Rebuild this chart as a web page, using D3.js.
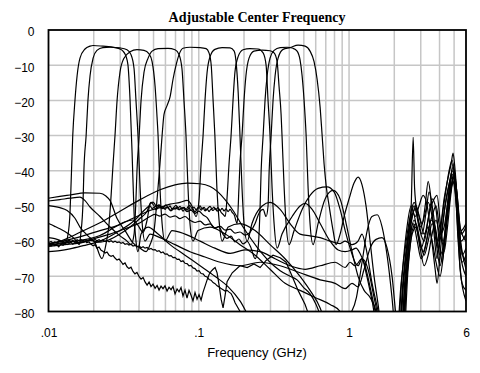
<!DOCTYPE html>
<html>
<head>
<meta charset="utf-8">
<script src="https://cdn.jsdelivr.net/npm/d3@7"></script>
<style>
  body { margin: 0; background: #fff; }
  text { fill: #000; }
</style>
</head>
<body>
<div id="chart"></div>
<script>
// ticks
var xTicks = [0.01, 0.1, 1, 6];
var xTickLabels = [".01", ".1", "1", "6"];
var xGrid = [0.02, 0.03, 0.04, 0.05, 0.06, 0.07, 0.08, 0.09, 0.1,
             0.2, 0.3, 0.4, 0.5, 0.6, 0.7, 0.8, 0.9, 1, 2, 3, 4, 5];
var yTicks = [0, -10, -20, -30, -40, -50, -60, -70, -80];

// filter responses, [frequency GHz, dB]
var f1 = [[0.0100,-59],[0.0110,-59.3],[0.0119,-59.8],[0.0129,-60.5],[0.0135,-58],[0.0139,-52],[0.0141,-45],[0.0145,-30],[0.0150,-20],[0.0155,-13],[0.0162,-8],[0.0175,-5.4],[0.0189,-4.6],[0.0198,-4.4],[0.0230,-4.6],[0.0277,-5.0],[0.0299,-5.4],[0.0313,-6],[0.0328,-7.5],[0.0338,-10],[0.0349,-20],[0.0360,-35],[0.0371,-52],[0.0382,-60],[0.0394,-63],[0.0413,-58],[0.0460,-56],[0.0536,-58],[0.0644,-61],[0.0810,-64],[0.102,-67],[0.128,-70],[0.157,-73],[0.188,-77],[0.219,-82],[0.40,-92],[0.87,-90],[0.94,-84],[1.12,-76],[1.22,-66],[1.32,-57],[1.42,-53],[1.54,-52.5],[1.66,-56],[1.79,-64],[1.93,-76],[2.05,-88],
  [2.12,-90],[2.29,-72],[2.47,-58],[2.59,-50],[2.67,-30.5],[2.73,-45],[2.84,-52],[3.02,-56],[3.21,-50],[3.36,-43],[3.51,-48],[3.68,-58],[3.85,-65],[4.03,-58],[4.29,-48],[4.56,-42],[4.78,-38],[4.92,-35],[5.08,-40],[5.32,-52],[5.57,-60],[6.0,-58]];

var f2 = [[0.0100,-55],[0.0110,-55.8],[0.0119,-56.5],[0.0133,-57.7],[0.0150,-59.5],[0.0160,-61],[0.0164,-58],[0.0170,-48],[0.0172,-40],[0.0178,-30],[0.0183,-20],[0.0189,-13],[0.0198,-8],[0.0210,-5.8],[0.0230,-5.0],[0.0257,-4.9],[0.0299,-5.1],[0.0333,-5.6],[0.0354,-7],[0.0371,-11],[0.0382,-20],[0.0394,-30],[0.0407,-45],[0.0420,-55],[0.0439,-60],[0.0474,-58],[0.0552,-59],[0.0695,-61],[0.0874,-63],[0.110,-64.5],[0.139,-66],[0.188,-67],[0.256,-66],[0.348,-67],[0.472,-69],[0.642,-71],[0.808,-72],[0.942,-73.5],[1.047,-72],[1.148,-73],[1.259,-68],[1.380,-62],[1.513,-59.5],[1.658,-59],[1.791,-62],[1.933,-70],[2.06,-82],
  [2.19,-90],[2.36,-70],[2.55,-55],[2.71,-50],[2.88,-54],[3.06,-58],[3.25,-52],[3.41,-46],[3.57,-50],[3.74,-56],[3.91,-62],[4.10,-58],[4.36,-50],[4.63,-44],[4.85,-40],[5.08,-43],[5.32,-55],[5.65,-64],[6.0,-62]];

var f3 = [[0.0100,-49.9],[0.0119,-50.5],[0.0133,-51.3],[0.0150,-53.5],[0.0162,-56],[0.0183,-58.5],[0.0204,-60.5],[0.0227,-65],[0.0241,-61],[0.0253,-55],[0.0261,-47],[0.0269,-38],[0.0277,-30],[0.0286,-20],[0.0299,-12],[0.0318,-8],[0.0349,-6.2],[0.0388,-5.6],[0.0432,-5.8],[0.0467,-6.8],[0.0489,-9],[0.0512,-16],[0.0528,-25],[0.0536,-30],[0.0552,-45],[0.0570,-55],[0.0596,-60],[0.0664,-57],[0.0810,-58],[0.102,-60],[0.128,-62],[0.162,-63.5],[0.203,-62.5],[0.256,-63],[0.322,-65],[0.405,-67],[0.510,-68],[0.642,-67],[0.808,-66],[0.942,-67.5],[1.016,-66],[1.096,-67],[1.220,-65],[1.338,-68],[1.467,-76],[1.608,-84],[2.0,-92],
  [2.25,-90],[2.43,-68],[2.59,-55],[2.75,-51],[2.92,-56],[3.16,-60],[3.36,-54],[3.57,-48],[3.79,-51],[3.97,-60],[4.16,-66],[4.42,-56],[4.70,-45],[4.92,-38],[5.16,-46],[5.48,-68],[6.0,-77]];

var f4 = [[0.0100,-48.6],[0.0119,-48.2],[0.0139,-47.8],[0.0162,-47.5],[0.0175,-48.5],[0.0189,-50.3],[0.0220,-53],[0.0257,-56],[0.0299,-58.5],[0.0333,-60],[0.0354,-61],[0.0371,-58],[0.0382,-48],[0.0388,-40],[0.0401,-30],[0.0413,-20],[0.0432,-12],[0.0460,-8],[0.0489,-6],[0.0536,-5.3],[0.0624,-5.2],[0.0695,-5.6],[0.0739,-7],[0.0773,-11],[0.0797,-20],[0.0822,-30],[0.0848,-45],[0.0874,-55],[0.0915,-60],[0.0989,-57],[0.119,-56],[0.150,-58],[0.188,-61],[0.237,-64],[0.298,-68],[0.375,-72],[0.472,-74],[0.594,-76],[0.748,-78],[0.872,-80],[0.942,-84],[1.5,-95],
  [2.08,-90],[2.25,-70],[2.43,-56],[2.59,-50],[2.75,-53],[2.92,-50],[3.11,-47],[3.31,-50],[3.51,-58],[3.74,-68],[3.85,-72],[4.03,-64],[4.29,-52],[4.56,-45],[4.78,-42],[5.00,-44],[5.24,-52],[5.57,-58],[6.0,-56]];

var f5 = [[0.0100,-47.8],[0.0119,-47.3],[0.0139,-46.9],[0.0175,-46.3],[0.0220,-46.4],[0.0241,-47.2],[0.0257,-48.5],[0.0286,-53.6],[0.0323,-57],[0.0365,-60.5],[0.0407,-62],[0.0446,-63],[0.0474,-61],[0.0504,-57],[0.0528,-48],[0.0552,-38],[0.0570,-30],[0.0587,-24],[0.0615,-21.5],[0.0644,-19],[0.0674,-14],[0.0706,-10],[0.0739,-7],[0.0785,-5.2],[0.0874,-4.9],[0.102,-5.0],[0.112,-5.3],[0.117,-6.5],[0.121,-10],[0.1245,-20],[0.128,-30],[0.132,-45],[0.137,-55],[0.143,-60],[0.157,-56],[0.188,-55],[0.237,-57],[0.298,-61],[0.375,-65],[0.472,-70],[0.550,-74],[0.642,-79],[0.693,-83],[1.2,-95],
  [2.15,-90],[2.32,-70],[2.51,-57],[2.67,-52],[2.84,-57],[3.02,-62],[3.21,-58],[3.46,-51],[3.68,-48],[3.85,-47],[4.03,-54],[4.29,-63],[4.49,-57],[4.78,-46],[5.00,-41],[5.24,-47],[5.57,-62],[6.0,-66]];

var f6 = [[0.0100,-60.7],[0.0119,-60.2],[0.0139,-59.5],[0.0170,-58.5],[0.0220,-57],[0.0286,-55.6],[0.0365,-53.5],[0.0474,-51.3],[0.0552,-50.5],[0.0644,-49.5],[0.0750,-49],[0.0835,-48.4],[0.0901,-50],[0.0959,-53],[0.1005,-48],[0.1036,-38],[0.1068,-30],[0.110,-20],[0.1136,-12],[0.119,-7.5],[0.128,-5.5],[0.143,-5.0],[0.1615,-5.1],[0.172,-6],[0.177,-9],[0.183,-18],[0.188,-30],[0.194,-45],[0.200,-55],[0.210,-60],[0.226,-55],[0.264,-50],[0.298,-49],[0.348,-51],[0.405,-55],[0.472,-58],[0.550,-58.5],[0.642,-59],[0.748,-60],[0.872,-60.7],[0.942,-60],[1.047,-61],[1.148,-60],[1.220,-58],[1.297,-62],[1.423,-72],[1.561,-80],[1.658,-86],
  [2.22,-90],[2.40,-70],[2.55,-59],[2.71,-54],[2.88,-58],[3.11,-63],[3.31,-59],[3.51,-54],[3.74,-56],[3.91,-60],[4.10,-55],[4.36,-47],[4.63,-40],[4.85,-37],[5.08,-44],[5.32,-58],[5.65,-66],[6.0,-64]];

var f7 = [[0.0100,-61.2],[0.0119,-60.8],[0.0150,-60],[0.0189,-59.3],[0.0220,-58.4],[0.0277,-56],[0.0323,-54.5],[0.0365,-54],[0.0394,-55.5],[0.0426,-57.5],[0.0453,-54],[0.0474,-49.5],
  [0.0496,-48.9],[0.0512,-49.6],[0.0528,-50.4],[0.0544,-49.8],[0.0561,-50.6],[0.0578,-50.1],[0.0596,-51.0],[0.0615,-50.3],[0.0634,-50.9],[0.0654,-51.4],[0.0674,-50.6],[0.0695,-50.9],[0.0717,-50.2],[0.0739,-51.1],[0.0762,-50.7],[0.0785,-51.5],[0.0810,-50.8],[0.0835,-51.2],[0.0861,-50.5],[0.0887,-51.3],[0.0915,-51.0],[0.0944,-51.7],[0.0974,-50.9],[0.1004,-50.4],[0.1036,-51.2],[0.1068,-50.6],[0.1101,-51.4],[0.1136,-50.8],[0.1171,-51.6],[0.1207,-50.9],[0.1245,-51.3],[0.1284,-50.7],[0.1324,-51.5],[0.1365,-51.0],[0.1408,-51.8],[0.1451,-52.4],
  [0.150,-53],[0.154,-48],[0.159,-38],[0.164,-30],[0.169,-20],[0.174,-12],[0.183,-7.5],[0.197,-5.6],[0.219,-5.3],[0.248,-5.4],[0.268,-6.5],[0.2805,-10],[0.289,-20],[0.298,-30],[0.3075,-45],[0.317,-55],[0.332,-62],[0.358,-58],[0.418,-53],[0.472,-50],[0.510,-49.3],[0.568,-51],[0.642,-55],[0.748,-60],[0.846,-62.5],[0.942,-63],[1.047,-62.5],[1.113,-62],[1.183,-63.5],[1.278,-67],[1.380,-73],[1.490,-80],[1.608,-88],
  [2.29,-90],[2.47,-68],[2.63,-57],[2.79,-55],[2.97,-60],[3.16,-64],[3.36,-60],[3.57,-55],[3.79,-58],[4.03,-64],[4.29,-60],[4.56,-50],[4.78,-44],[5.00,-42],[5.24,-50],[5.48,-63],[6.0,-70]];

var f8 = [[0.0100,-63],[0.0119,-62.7],[0.0139,-62.2],[0.0170,-61.3],[0.0220,-60],[0.0299,-57],[0.0376,-54],[0.0439,-51],
  [0.0474,-50],[0.0489,-50.8],[0.0504,-50.3],[0.0520,-51.1],[0.0536,-50.4],[0.0552,-49.9],[0.0570,-50.7],[0.0587,-50.2],[0.0606,-49.7],[0.0624,-50.5],[0.0644,-50.0],[0.0664,-50.9],[0.0685,-50.3],[0.0706,-49.8],[0.0728,-50.6],[0.0750,-50.1],[0.0773,-50.8],[0.0797,-50.4],[0.0822,-51.0],[0.0848,-50.2],[0.0874,-49.9],[0.0901,-50.7],[0.0930,-50.3],[0.0959,-51.1],[0.0989,-50.5],[0.102,-50.0],[0.105,-50.8],[0.1085,-50.4],[0.112,-51.2],[0.1153,-50.6],[0.119,-50.1],[0.1226,-50.9],[0.126,-50.3],[0.1303,-51.0],[0.134,-50.5],[0.1386,-51.3],[0.143,-50.7],[0.1473,-51.4],[0.152,-50.8],[0.1567,-51.6],[0.1615,-51.0],[0.1666,-51.8],[0.172,-52.5],
  [0.180,-55],[0.185,-45],[0.188,-38],[0.194,-30],[0.200,-20],[0.206,-13],[0.216,-8],[0.233,-6],[0.264,-5.7],[0.298,-5.9],[0.317,-6.5],[0.332,-9],[0.342,-16],[0.353,-24],[0.358,-30],[0.370,-45],[0.381,-55],[0.399,-61],[0.431,-57],[0.487,-51],[0.550,-47],[0.622,-45],[0.714,-44.6],[0.795,-46],[0.872,-51],[0.942,-57],[1.016,-62],[1.096,-66],[1.148,-67],[1.220,-65],[1.297,-69],[1.423,-77],[1.561,-86],
  [2.05,-90],[2.22,-72],[2.40,-60],[2.55,-53],[2.71,-49],[2.88,-52],[3.06,-55],[3.21,-52],[3.36,-49],[3.57,-53],[3.79,-60],[4.03,-67],[4.23,-62],[4.49,-51],[4.70,-43],[4.92,-39],[5.16,-45],[5.48,-56],[6.0,-60]];

var f9 = [[0.0100,-61],[0.0119,-60.6],[0.0139,-60],[0.0162,-60.5],[0.0189,-59.8],[0.0220,-60.3],[0.0257,-59.5],[0.0299,-58],[0.0349,-56],[0.0407,-53.5],[0.0453,-51.5],
  [0.0481,-49],[0.0512,-50.2],[0.0544,-49.7],[0.0578,-50.8],[0.0615,-50.4],[0.0654,-51.3],[0.0695,-50.6],[0.0739,-51.0],[0.0785,-50.5],[0.0835,-51.6],[0.0887,-51.2],[0.0944,-52.1],[0.100,-51.5],[0.107,-52.6],[0.114,-53.4],[0.121,-55.2],[0.128,-56.4],[0.136,-55.9],[0.145,-58.1],[0.154,-59.2],[0.164,-58.6],[0.174,-60.2],[0.185,-59.4],[0.197,-60.8],[0.210,-60.1],[0.223,-62],[0.237,-65],[0.248,-62],
  [0.256,-50],[0.260,-40],[0.268,-30],[0.276,-20],[0.285,-13],[0.298,-8],[0.317,-5.8],[0.348,-5.0],[0.387,-4.9],[0.424,-5.2],[0.451,-6],[0.472,-8.5],[0.487,-13],[0.502,-20],[0.518,-30],[0.534,-45],[0.550,-55],[0.576,-61],[0.622,-55],[0.693,-48],[0.783,-45.6],[0.872,-48],[0.956,-55],[1.047,-63],[1.148,-70],[1.259,-74],[1.380,-76],[1.513,-80],[1.608,-86],
  [2.19,-90],[2.36,-72],[2.51,-60],[2.67,-55],[2.84,-60],[3.02,-65],[3.21,-62],[3.41,-56],[3.62,-52],[3.79,-50],[3.97,-55],[4.23,-60],[4.49,-53],[4.78,-45],[5.00,-40],[5.24,-47],[5.57,-57],[6.0,-55]];

var f10 = [[0.0100,-61.5],[0.0129,-61],[0.0162,-60.5],[0.0204,-59.2],[0.0257,-58],[0.0323,-56.5],[0.0407,-54.8],[0.0474,-53],
  [0.0512,-52.4],[0.0552,-52.9],[0.0596,-52.3],[0.0644,-53.2],[0.0695,-52.8],[0.0750,-53.6],[0.0810,-53.0],[0.0874,-54.1],[0.0944,-54.7],[0.102,-54.3],[0.110,-55.4],[0.119,-55.1],[0.128,-56.2],[0.139,-55.8],[0.150,-56.9],[0.1615,-56.6],[0.174,-57.7],[0.188,-57.4],[0.203,-58.3],[0.219,-57.5],
  [0.237,-55],[0.252,-52],[0.268,-51],[0.2805,-53],[0.289,-50],[0.294,-40],[0.303,-30],[0.312,-20],[0.322,-13],[0.337,-8],[0.364,-5.5],[0.405,-5.0],[0.458,-4.3],[0.510,-4.6],[0.550,-6],[0.585,-9],[0.613,-14],[0.642,-22],[0.662,-30],[0.682,-38],[0.703,-44],[0.737,-50],[0.783,-57],[0.820,-61],[0.872,-58],[0.927,-53],[1.0,-48],[1.079,-43.5],[1.148,-41.8],[1.220,-44],[1.297,-50],[1.380,-60],[1.467,-70],[1.561,-78],[1.658,-86],
  [2.12,-90],[2.29,-71],[2.47,-59],[2.63,-53],[2.79,-50],[2.97,-54],[3.16,-58],[3.36,-56],[3.57,-60],[3.79,-66],[4.03,-70],[4.29,-62],[4.56,-52],[4.85,-44],[5.08,-43],[5.32,-54],[5.65,-63],[6.0,-68]];

// smooth off-state trace
var hump = [[0.0100,-61],[0.0129,-59.5],[0.0162,-57.5],[0.0220,-54.8],[0.0299,-51.5],[0.0407,-48.2],[0.0552,-45.4],[0.0695,-44],[0.0835,-43.5],[0.102,-43.7],[0.119,-44.5],[0.134,-46],[0.150,-48.3],[0.169,-51.3],[0.197,-56],[0.244,-61.7],[0.298,-66],[0.348,-68.4],[0.405,-70],[0.451,-71],[0.494,-73],[0.550,-75],[0.603,-78],[0.642,-81],[0.693,-86],
  [2.25,-90],[2.43,-70],[2.63,-58],[2.79,-56],[2.97,-62],[3.16,-67],[3.36,-64],[3.57,-58],[3.79,-54],[4.03,-58],[4.29,-56],[4.56,-48],[4.85,-41],[5.08,-45],[5.32,-60],[5.65,-72],[6.0,-74]];

// noisy low traces
var n1 = [[0.0101,-61.0],[0.0104,-61.4],[0.0107,-60.9],[0.0110,-61.3],[0.0114,-61.1],[0.0117,-61.6],[0.0121,-60.8],[0.0125,-61.2],[0.0129,-60.6],[0.0133,-61.0],[0.0137,-60.7],[0.0141,-60.3],[0.0145,-60.9],[0.0150,-60.4],[0.0155,-60.1],[0.0160,-60.6],[0.0164,-59.9],[0.0170,-60.3],[0.0175,-60.0],[0.0180,-60.5],[0.0186,-60.2],[0.0192,-60.9],[0.0198,-61.3],[0.0204,-61.0],[0.0210,-62.0],[0.0217,-61.7],[0.0224,-62.6],[0.0230,-62.9],[0.0238,-63.4],[0.0245,-63.1],[0.0253,-64.0],[0.0261,-64.3],[0.0269,-64.1],[0.0277,-64.8],[0.0286,-65.4],[0.0295,-65.1],[0.0304,-65.8],[0.0313,-66.6],[0.0323,-66.2],[0.0333,-67.3],[0.0343,-67.8],[0.0354,-67.4],[0.0365,-68.6],[0.0376,-69.3],[0.0388,-68.9],[0.0401,-70.1],[0.0413,-70.8],[0.0426,-70.3],[0.0439,-71.6],[0.0453,-72.5],[0.0467,-71.6],[0.0481,-72.9],[0.0496,-72.2],[0.0512,-73.4],[0.0528,-72.6],[0.0544,-73.9],[0.0561,-72.8],[0.0578,-73.5],[0.0596,-72.7],[0.0615,-74.2],[0.0634,-73.1],[0.0654,-73.8],[0.0674,-72.9],[0.0695,-75.0],[0.0717,-73.6],[0.0739,-74.4],[0.0762,-73.2],[0.0785,-75.6],[0.0810,-73.9],[0.0835,-76.2],[0.0861,-74.0],[0.0887,-75.3],[0.0915,-77.0],[0.0944,-74.6],[0.0974,-76.5],[0.1004,-75.2],[0.1036,-76.8],[0.1068,-74.5],[0.1101,-72.8],[0.1136,-71.0],[0.1171,-69.5],[0.1207,-68.6],[0.1245,-68.0],[0.1284,-67.5],[0.1324,-69.0],[0.1365,-72.5],[0.1408,-76.5],[0.1451,-79.0],[0.1496,-75.5],[0.1543,-71.5],[0.167,-69],[0.188,-67],[0.210,-67.5],[0.233,-66.5],[0.256,-67.5],[0.2805,-65.5],[0.312,-64],[0.348,-64.7],[0.381,-66],[0.418,-70],[0.458,-74],[0.510,-78],[0.550,-82],[0.594,-88]];

var n2 = [[0.0101,-60.4],[0.0104,-60.1],[0.0107,-60.6],[0.0110,-60.2],[0.0114,-60.5],[0.0117,-59.9],[0.0121,-60.3],[0.0125,-60.0],[0.0129,-60.6],[0.0133,-60.1],[0.0137,-59.7],[0.0141,-60.2],[0.0145,-59.8],[0.0150,-60.1],[0.0155,-59.6],[0.0160,-59.9],[0.0164,-59.5],[0.0170,-59.9],[0.0175,-59.6],[0.0180,-60.0],[0.0186,-59.7],[0.0192,-59.4],[0.0198,-59.8],[0.0204,-59.5],[0.0210,-59.9],[0.0217,-59.6],[0.0224,-60.0],[0.0230,-59.7],[0.0238,-60.1],[0.0245,-59.8],[0.0253,-60.2],[0.0261,-59.9],[0.0269,-60.3],[0.0277,-60.0],[0.0286,-60.4],[0.0295,-60.2],[0.0304,-60.6],[0.0313,-60.4],[0.0323,-60.9],[0.0333,-60.7],[0.0343,-61.1],[0.0354,-60.9],[0.0365,-61.4],[0.0376,-61.2],[0.0388,-61.6],[0.0401,-61.4],[0.0413,-61.9],[0.0426,-61.6],[0.0439,-62.0],[0.0453,-61.8],[0.0467,-62.3],[0.0481,-62.1],[0.0496,-62.5],[0.0512,-62.4],[0.0528,-62.9],[0.0544,-62.7],[0.0561,-63.3],[0.0578,-63.1],[0.0596,-63.7],[0.0615,-63.6],[0.0634,-64.2],[0.0654,-64.1],[0.0674,-64.7],[0.0695,-64.6],[0.0717,-65.2],[0.0739,-65.1],[0.0762,-65.8],[0.0785,-65.6],[0.0810,-66.3],[0.0835,-66.4],[0.0861,-67.0],[0.0887,-66.9],[0.0915,-67.6],[0.0944,-67.8],[0.0974,-68.5],[0.1004,-68.4],[0.1036,-69.2],[0.1068,-69.3],[0.1101,-70.0],[0.1136,-70.2],[0.1171,-70.9],[0.1207,-71.1],[0.1245,-71.8],[0.1284,-72.1],[0.1324,-72.7],[0.1365,-73.0],[0.1408,-73.5],[0.1451,-73.8],[0.1496,-74.2],[0.1543,-74.0],[0.1591,-74.5],[0.1640,-74.9],[0.1691,-76.0],[0.1744,-77.5],[0.1883,-80],[0.2064,-85]];

var smoothSeries = [f1, f2, f3, f4, f5, f6, f7, f8, f9, f10, hump];
var noisySeries = [n1, n2];

//Chart dimensions (in pixels)
var width = 480,
    height = 373;
var plot = {left: 48.5, right: 466, top: 30, bottom: 311.5};

var x = d3.scaleLog()
    .domain([0.01, 6])
    .range([plot.left, plot.right]);

var y = d3.scaleLinear()
    .domain([-80, 0])
    .range([plot.bottom, plot.top]);

var svg = d3.select("#chart").append("svg")
    .attr("width", width)
    .attr("height", height);

svg.append("defs").append("clipPath")
    .attr("id", "clip")
  .append("rect")
    .attr("x", plot.left)
    .attr("y", plot.top)
    .attr("width", plot.right - plot.left)
    .attr("height", plot.bottom - plot.top);

//gridlines
var grid = svg.append("g").attr("class", "grid");
grid.selectAll("line.v")
    .data(xGrid)
    .enter().append("line")
    .attr("class", "v")
    .attr("x1", function(d){ return x(d); })
    .attr("x2", function(d){ return x(d); })
    .attr("y1", plot.top)
    .attr("y2", plot.bottom)
    .style("stroke", "#c6c6c6")
    .style("stroke-width", 1.5);
grid.selectAll("line.h")
    .data(yTicks.slice(1, -1))
    .enter().append("line")
    .attr("class", "h")
    .attr("x1", plot.left)
    .attr("x2", plot.right)
    .attr("y1", function(d){ return y(d); })
    .attr("y2", function(d){ return y(d); })
    .style("stroke", "#c6c6c6")
    .style("stroke-width", 1.5);

//traces
var smoothLine = d3.line()
    .x(function(d){ return x(d[0]); })
    .y(function(d){ return y(d[1]); })
    .curve(d3.curveMonotoneX);
var noisyLine = d3.line()
    .x(function(d){ return x(d[0]); })
    .y(function(d){ return y(d[1]); });

var traces = svg.append("g").attr("clip-path", "url(#clip)");
traces.selectAll("path.smooth")
    .data(smoothSeries)
    .enter().append("path")
    .attr("class", "smooth")
    .attr("d", smoothLine)
    .style("fill", "none")
    .style("stroke", "#000")
    .style("stroke-width", 1.2);
traces.selectAll("path.noisy")
    .data(noisySeries)
    .enter().append("path")
    .attr("class", "noisy")
    .attr("d", noisyLine)
    .style("fill", "none")
    .style("stroke", "#000")
    .style("stroke-width", 1.2);

//frame
svg.append("rect")
    .attr("x", plot.left)
    .attr("y", plot.top)
    .attr("width", plot.right - plot.left)
    .attr("height", plot.bottom - plot.top)
    .style("fill", "none")
    .style("stroke", "#000")
    .style("stroke-width", 1.8);

//axes
var yAxis = d3.axisLeft(y)
    .tickValues(yTicks)
    .tickSize(0)
    .tickPadding(14)
    .tickFormat(d3.format("d"));
var gy = svg.append("g")
    .attr("transform", "translate(" + plot.left + ",2)")
    .call(yAxis);

var xAxis = d3.axisBottom(x)
    .tickValues(xTicks)
    .tickSize(0)
    .tickPadding(17)
    .tickFormat(function(d, i){ return xTickLabels[i]; });
var gx = svg.append("g")
    .attr("transform", "translate(0," + plot.bottom + ")")
    .call(xAxis);

[gx, gy].forEach(function(g){
  g.select(".domain").remove();
  g.selectAll("text")
    .style("font-family", "Liberation Sans, Arial, sans-serif")
    .style("font-size", "12px")
    .style("fill", "#000");
});

//titles
svg.append("text")
    .attr("x", 257)
    .attr("y", 21.5)
    .attr("text-anchor", "middle")
    .style("font-family", "Liberation Serif, Times New Roman, serif")
    .style("font-weight", "bold")
    .style("font-size", "14px")
    .text("Adjustable Center Frequency");

svg.append("text")
    .attr("x", 257)
    .attr("y", 357)
    .attr("text-anchor", "middle")
    .style("font-family", "Liberation Sans, Arial, sans-serif")
    .style("font-size", "13px")
    .text("Frequency (GHz)");
</script>
</body>
</html>
